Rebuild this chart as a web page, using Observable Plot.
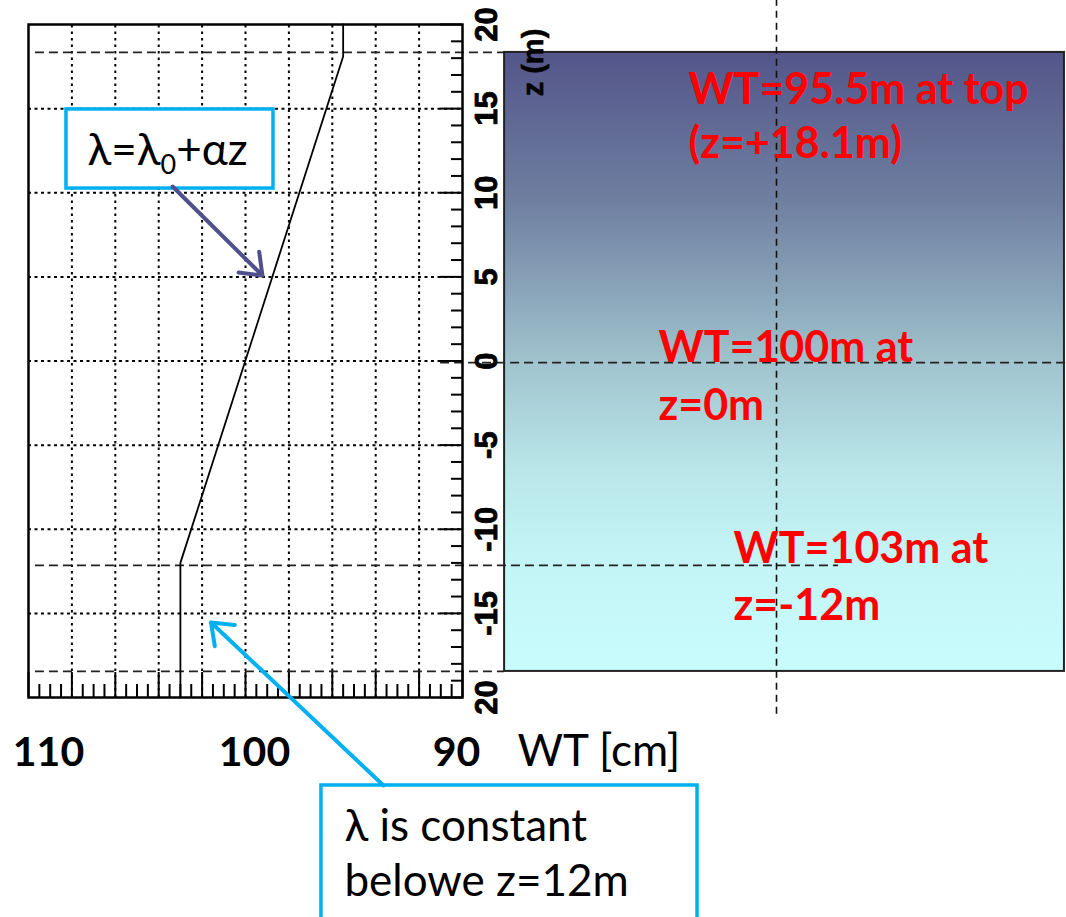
<!DOCTYPE html>
<html>
<head>
<meta charset="utf-8">
<script src="https://cdn.jsdelivr.net/npm/d3@7"></script>
<script src="https://cdn.jsdelivr.net/npm/@observablehq/plot@0.6"></script>
<style>
  body { margin: 0; background: #ffffff; }
  #chart svg { display: block; }
</style>
</head>
<body>
<div id="chart"></div>
<script>
// ---------------- data ----------------
// WT profile (cm) versus depth z (m)
const profileZ  = [-20, -12, 18.1, 20];
const profileWT = [103, 103, 95.5, 95.5];

// grid and tick values
const gridWT = [108, 106, 104, 102, 100, 98, 96, 94, 92];
const gridZ  = [15, 10, 5, 0, -5, -10, -15];
const zTickValues = [20, 15, 10, 5, 0, -5, -10, -15, -20];
const zTickLabels = ["20", "15", "10", "5", "0", "-5", "-10", "-15", "20"];
const wtLabelValues = [110, 100, 90];
const wtLabelTexts  = ["110", "100", "90"];

// reference levels (z in m)
const levelZ = [18.34, -0.1, -12.15, -18.45];

// red annotation texts
const noteTexts = ["WT=95.5m at top", "(z=+18.1m)", "WT=100m at", "z=0m", "WT=103m at", "z=-12m"];

// ---------------- layout (annotation placement in data units) ----------------
const L = {
  panel: {x1: 88.06, x2: 62.26, y1: 18.34, y2: -18.45},
  notePos: [
    {wt: 79.59, z: 15.30}, {wt: 79.59, z: 12.04},
    {wt: 80.97, z: -0.03}, {wt: 80.97, z: -3.48},
    {wt: 77.51, z: -11.98}, {wt: 77.51, z: -15.42}
  ],
  dashH: [
    {z: levelZ[0], a: 109.68, b: 88.06},
    {z: levelZ[1], a: 91.01, b: 62.0},
    {z: levelZ[2], a: 109.68, b: 72.67},
    {z: levelZ[3], a: 109.68, b: 88.06}
  ],
  dashV: {wt: 75.53, z1: 21.5, z2: -21.07},
  zLabel: {wt: 86.73, z: 17.74},
  box1: {x1: 108.25, x2: 98.71, y1: 14.95, y2: 10.25},
  box1Text: {wt: 107.28, z: 11.62},
  arrow1: {x1: 103.36, y1: 10.37, x2: 99.22, y2: 5.08},
  box2: {x1: 96.50, x2: 79.17, y1: -25.23, y2: -34},
  box2Text: [{wt: 95.44, z: -28.50, t: "λ is constant"}, {wt: 95.44, z: -31.77, t: "belowe z=12m"}],
  arrow2: {x1: 93.64, y1: -25.23, x2: 101.59, y2: -15.54},
  wtLabelDx: [20, 9, -6]
};

const profile = profileZ.map((z, i) => ({z, wt: profileWT[i]}));
const bottomTicks = d3.range(0, 41).map(i => 90 + i * 0.5);
const rightTicks = d3.range(-20, 21);

const gradDefs = () => {
  const ns = "http://www.w3.org/2000/svg";
  const defs = document.createElementNS(ns, "defs");
  const g = document.createElementNS(ns, "linearGradient");
  g.setAttribute("id", "panelGrad");
  g.setAttribute("x1", "0"); g.setAttribute("y1", "0");
  g.setAttribute("x2", "0"); g.setAttribute("y2", "1");
  const stops = [[0, "#53558a"], [0.24, "#6f7fa0"], [0.40, "#8ca8bc"], [0.50, "#a0c3cd"],
                 [0.675, "#b9e6e9"], [0.82, "#c4f5f6"], [1, "#c8fcfc"]];
  for (const [o, c] of stops) {
    const s = document.createElementNS(ns, "stop");
    s.setAttribute("offset", o); s.setAttribute("stop-color", c);
    g.appendChild(s);
  }
  defs.appendChild(g);
  return defs;
};

const axisFont = "'Liberation Sans', Arial, sans-serif";
const noteFont = "Lato, 'Open Sans', sans-serif";

const chart = Plot.plot({
  width: 1066,
  height: 917,
  marginLeft: 28,
  marginRight: 604,
  marginTop: 24,
  marginBottom: 220,
  x: {domain: [110, 90], axis: null},
  y: {domain: [-20, 20], axis: null},
  style: {background: "white", fontFamily: noteFont, overflow: "visible"},
  marks: [
    gradDefs,
    // right panel
    Plot.rect([L.panel], {x1: "x1", x2: "x2", y1: "y1", y2: "y2", fill: "url(#panelGrad)", stroke: "#222", strokeWidth: 2}),
    // grid
    Plot.ruleX(gridWT, {x: d => d, y1: -20, y2: 20, stroke: "black", strokeWidth: 2, strokeDasharray: "2.5,4"}),
    Plot.ruleY(gridZ, {y: d => d, x1: 110, x2: 90, stroke: "black", strokeWidth: 2, strokeDasharray: "3,3.5"}),
    // bottom ticks (inward)
    Plot.ruleX(bottomTicks, {x: d => d, y1: -20, y2: d => (d % 2 === 0 ? -20 + 25 / 16.825 : -20 + 13 / 16.825), stroke: "black", strokeWidth: 2}),
    // right ticks (inward)
    Plot.ruleY(rightTicks, {y: d => d, x1: 90, x2: d => (d % 5 === 0 ? 90 + 22 / 21.7 : 90 + 11 / 21.7), stroke: "black", strokeWidth: 2}),
    // dashed reference lines
    Plot.ruleY(L.dashH, {y: "z", x1: "a", x2: "b", stroke: "#222", strokeWidth: 1.8, strokeDasharray: "9,5"}),
    Plot.ruleX([L.dashV], {x: "wt", y1: "z1", y2: "z2", stroke: "#111", strokeWidth: 1.6, strokeDasharray: "7,5"}),
    // frame
    Plot.frame({stroke: "black", strokeWidth: 2.5}),
    // profile line
    Plot.line(profile, {x: "wt", y: "z", stroke: "black", strokeWidth: 1.8}),
    // right axis labels (rotated)
    Plot.text(zTickValues, {y: d => d, frameAnchor: "right", dx: 25, rotate: -90, text: (d, i) => zTickLabels[i],
      textAnchor: "middle", lineAnchor: "middle", fontSize: 31, fontWeight: "bold", fontFamily: axisFont,
      fill: "black", stroke: "black", strokeWidth: 0.8}),
    Plot.text([L.zLabel], {x: "wt", y: "z", text: () => "z (m)", rotate: -90, textAnchor: "middle", lineAnchor: "middle",
      fontSize: 29, fontWeight: "bold", fontFamily: axisFont, fill: "black", stroke: "black", strokeWidth: 0.6}),
    // bottom labels
    ...wtLabelValues.map((v, i) => Plot.text([v], {x: d => d, frameAnchor: "bottom", dy: 68, dx: L.wtLabelDx[i],
      text: () => wtLabelTexts[i], textAnchor: "middle", lineAnchor: "bottom", fontSize: 41, fontWeight: "bold", fill: "black"})),
    Plot.text(["WT [cm]"], {frameAnchor: "bottom-right", dx: 55, dy: 68, text: d => d, textAnchor: "start",
      lineAnchor: "bottom", fontSize: 44, fill: "black"}),
    // red notes
    Plot.text(noteTexts, {x: (d, i) => L.notePos[i].wt, y: (d, i) => L.notePos[i].z, text: d => d, textAnchor: "start",
      lineAnchor: "bottom", fontSize: 43, fontWeight: "bold", fill: "#ff0000"}),
    // callout 1
    Plot.rect([L.box1], {x1: "x1", x2: "x2", y1: "y1", y2: "y2", fill: "white", stroke: "#00b0f0", strokeWidth: 3.5}),
    Plot.text([L.box1Text], {x: "wt", y: "z", text: () => "FORMULA", textAnchor: "start", lineAnchor: "bottom",
      fontSize: 44, fill: "black"}),
    Plot.arrow([L.arrow1], {x1: "x1", y1: "y1", x2: "x2", y2: "y2", stroke: "#50508c", strokeWidth: 4, headAngle: 75, headLength: 9}),
    // callout 2
    Plot.rect([L.box2], {x1: "x1", x2: "x2", y1: "y1", y2: "y2", fill: "white", stroke: "#00b0f0", strokeWidth: 3.5}),
    Plot.text(L.box2Text, {x: "wt", y: "z", text: "t", textAnchor: "start", lineAnchor: "bottom", fontSize: 44, fill: "black"}),
    Plot.arrow([L.arrow2], {x1: "x1", y1: "y1", x2: "x2", y2: "y2", stroke: "#00b0f0", strokeWidth: 4, headAngle: 75, headLength: 9})
  ]
});

document.getElementById("chart").appendChild(chart);

// formula with subscript
d3.select(chart).selectAll("text").filter(function () { return this.textContent === "FORMULA"; })
  .each(function () {
    const t = d3.select(this);
    t.text(null);
    t.append("tspan").text("λ=λ");
    t.append("tspan").attr("dy", 9).attr("font-size", 27).text("0");
    t.append("tspan").attr("dy", -9).text("+αz");
  });
</script>
</body>
</html>
